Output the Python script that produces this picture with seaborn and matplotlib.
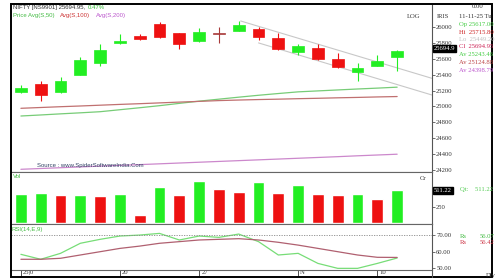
import matplotlib
matplotlib.use('Agg')
import matplotlib.pyplot as plt
import matplotlib.transforms as mtransforms
from matplotlib.patches import Rectangle
from matplotlib.lines import Line2D
import seaborn as sns
import numpy as np
import pandas as pd

sns.set_style('white')
plt.rcParams['font.family'] = ['Liberation Serif', 'DejaVu Serif']

# ---------------- data ----------------
opens = [25186, 25279, 25186, 25396, 25543, 25803, 25887, 26038, 25921, 25824,
         25922, 25954, 25971, 25858, 25682, 25732, 25594, 25438, 25509, 25617]
highs = [25270, 25320, 25375, 25626, 25783, 25912, 25912, 26067, 25925, 25984,
         25997, 26072, 26004, 25929, 25786, 25783, 25677, 25543, 25648, 25716]
lows = [25173, 25072, 25175, 25390, 25513, 25786, 25840, 25858, 25720, 25815,
        25803, 25948, 25837, 25711, 25648, 25585, 25488, 25324, 25505, 25449]
closes = [25236, 25144, 25324, 25585, 25711, 25828, 25853, 25878, 25786, 25941,
          25918, 26026, 25871, 25720, 25761, 25598, 25501, 25488, 25576, 25695]

ma50 = [24880, 24893, 24907, 24920, 24934, 24959, 24984, 25010, 25039, 25067,
        25092, 25117, 25141, 25163, 25184, 25196, 25208, 25220, 25231, 25243]
ma100 = [24977, 24987, 24997, 25006, 25016, 25026, 25035, 25045, 25055, 25064,
         25074, 25081, 25087, 25092, 25098, 25103, 25109, 25114, 25120, 25125]
ma200 = [24209, 24219, 24229, 24239, 24249, 24259, 24268, 24278, 24288, 24298,
         24308, 24318, 24328, 24338, 24348, 24358, 24368, 24379, 24389, 24399]

trend_x = [11.1, 20.76]
trend_upper = [26076, 25354]
trend_lower_x = [12.0, 20.76]
trend_lower = [25800, 25144]

volumes = [453, 469, 437, 437, 422, 453, 125, 562, 437, 656,
           531, 484, 640, 469, 594, 453, 437, 453, 375, 511.22]
vol_dir = ['up', 'up', 'down', 'up', 'down', 'up', 'down', 'up', 'down', 'up',
           'down', 'down', 'up', 'down', 'up', 'down', 'down', 'up', 'down', 'up']

rsi = [58.3, 55.3, 58.9, 65.0, 67.4, 69.4, 70.0, 71.0, 67.0, 69.4,
       68.6, 70.6, 66.0, 57.9, 58.9, 52.8, 49.8, 49.8, 52.8, 56.07]
rsi_sig = [55.3, 55.3, 55.9, 57.9, 59.9, 61.9, 63.3, 65.0, 66.0, 67.0,
           67.4, 67.8, 67.0, 65.6, 63.9, 61.9, 59.9, 57.9, 56.5, 56.42]

xtick_idx = [0, 5, 9, 14, 18]
xtick_labels = ['25|0', '20', '27', 'N', '10']
price_ticks = [24200, 24400, 24600, 24800, 25000, 25200, 25400, 25600, 25800, 26000]
vol_ticks = [250]
rsi_ticks = [50, 60, 70]

GREEN = '#22ee22'
RED = '#ee1111'
DOJI = '#a83a3a'

# ---------------- layout ----------------
W, H = 500, 280
fig = plt.figure(figsize=(5, 2.8), dpi=100)
fig.patch.set_facecolor('white')
L, R = 11 / W, 432 / W
def fy(px):
    return 1 - px / H

ax_p = fig.add_axes([L, fy(172), R - L, (172 - 4) / H])
ax_v = fig.add_axes([L, fy(224), R - L, (224 - 172) / H], sharex=ax_p)
ax_r = fig.add_axes([L, fy(270), R - L, (270 - 224) / H], sharex=ax_p)

idx = np.arange(len(opens))
o = np.array(opens); c = np.array(closes)
cols = []
for oo, cc in zip(o, c):
    if abs(cc - oo) < 10:
        cols.append(DOJI)
    elif cc > oo:
        cols.append(GREEN)
    else:
        cols.append(RED)

# price panel
ax_p.vlines(idx, lows, highs, colors=cols, lw=0.8, zorder=2)
ax_p.bar(idx, np.maximum(np.abs(c - o), 3), bottom=np.minimum(o, c), width=0.6,
         color=cols, edgecolor=cols, linewidth=0.5, zorder=3)
sns.lineplot(x=idx, y=ma50, ax=ax_p, color='#77cc77', lw=0.9, zorder=1)
sns.lineplot(x=idx, y=ma100, ax=ax_p, color='#c07070', lw=0.9, zorder=1)
sns.lineplot(x=idx, y=ma200, ax=ax_p, color='#cc88cc', lw=0.9, zorder=1)
ax_p.plot(trend_x, trend_upper, color='#c8c8c8', lw=0.8, zorder=1)
ax_p.plot(trend_lower_x, trend_lower, color='#c8c8c8', lw=0.8, zorder=1)
ax_p.set_ylim(24175, 26290)
ax_p.set_xlim(-0.5, 20.76)

# volume panel
vdf = pd.DataFrame({'i': idx, 'vol': volumes, 'dir': vol_dir})
sns.barplot(data=vdf, x='i', y='vol', hue='dir', palette={'up': GREEN, 'down': RED},
            native_scale=True, width=0.6, dodge=False, legend=False, saturation=1,
            ax=ax_v)
ax_v.set_ylim(-16, 797)

# rsi panel
sns.lineplot(x=idx, y=rsi, ax=ax_r, color='#77dd77', lw=0.9)
sns.lineplot(x=idx, y=rsi_sig, ax=ax_r, color='#b06070', lw=0.9)
ax_r.axhline(70, color='#888888', lw=0.6, ls=(0, (1.5, 1.5)))
ax_r.set_ylim(48.8, 76.7)
ax_r.set_xlim(-0.5, 20.76)

TXT = '#333333'
FS = 4.8
for ax in (ax_p, ax_v, ax_r):
    ax.set_xlabel(''); ax.set_ylabel('')
    ax.yaxis.tick_right()
    ax.tick_params(axis='y', which='both', right=True, left=False, length=2, width=0.5,
                   labelsize=FS, pad=1, colors=TXT)
    ax.spines['left'].set_visible(False)
    ax.spines['right'].set_color('#555555'); ax.spines['right'].set_linewidth(0.8)
    ax.spines['top'].set_color('#666666'); ax.spines['top'].set_linewidth(0.8)
    ax.spines['bottom'].set_color('#666666'); ax.spines['bottom'].set_linewidth(0.8)
    ax.grid(False)
for ax in (ax_p, ax_v):
    ax.tick_params(axis='x', bottom=False, labelbottom=False)
ax_p.spines['top'].set_visible(False)

ax_p.set_yticks(price_ticks)
ax_p.set_yticklabels([str(t) for t in price_ticks])
ax_v.set_yticks(vol_ticks)
ax_v.set_yticklabels([str(t) for t in vol_ticks])
ax_r.set_yticks(rsi_ticks)
ax_r.set_yticklabels(['%.2f' % t for t in rsi_ticks])

ax_r.set_xticks(xtick_idx)
ax_r.set_xticklabels(xtick_labels)
ax_r.tick_params(axis='x', bottom=True, direction='out', length=4.5, width=0.6,
                 labelsize=FS, pad=-4.4, colors=TXT)
off = mtransforms.ScaledTranslation(1.5 / 72, 0, fig.dpi_scale_trans)
for lbl in ax_r.get_xticklabels():
    lbl.set_horizontalalignment('left')
    lbl.set_transform(lbl.get_transform() + off)

# value boxes on right axis
bt = mtransforms.blended_transform_factory(ax_p.transAxes, ax_p.transData)
ax_p.text(1.004, closes[-1] + 30, '25694.9', transform=bt, color='white', fontsize=FS,
          va='center', ha='left', zorder=10, clip_on=False,
          bbox=dict(boxstyle='square,pad=0.15', fc='black', ec='black'))
bv = mtransforms.blended_transform_factory(ax_v.transAxes, ax_v.transData)
ax_v.text(1.004, volumes[-1], '511.22', transform=bv, color='white', fontsize=FS,
          va='center', ha='left', zorder=10, clip_on=False,
          bbox=dict(boxstyle='square,pad=0.15', fc='black', ec='black'))

# frame
fig.add_artist(Rectangle((11 / W, fy(277)), (492 - 11) / W, (277 - 4) / H,
                         transform=fig.transFigure, fill=False, ec='black', lw=1.4))
fig.add_artist(Line2D([R, R], [fy(277), fy(270)], transform=fig.transFigure,
                      color='#555555', lw=0.8))

def ftext(x, y, s, color=TXT, size=FS, ha='left', family=None, **kw):
    kwargs = dict(color=color, fontsize=size, ha=ha, va='center')
    if family:
        kwargs['family'] = family
    kwargs.update(kw)
    fig.text(x / W, fy(y), s, **kwargs)

SANS = ['Liberation Sans', 'DejaVu Sans']
# header
ftext(13, 7.5, 'NIFTY [NS9901] 25694.95,', size=4.3, family=SANS)
ftext(88, 7.5, '0.47%', color='#33bb33', size=4.3, family=SANS)
ftext(13, 15.5, 'Price Avg(S,50)', color='#44bb44', size=4.3, family=SANS)
ftext(60, 15.5, 'Avg(S,100)', color='#cc3333', size=4.3, family=SANS)
ftext(96, 15.5, 'Avg(S,200)', color='#bb55cc', size=4.3, family=SANS)
ftext(37, 165, 'Source : www.SpiderSoftwareIndia.Com', color='#334466', size=4.3, family=SANS)
ftext(420, 16, 'LOG', ha='right')
ftext(437, 16, 'IRIS')

# right info column
ftext(478, 7, '0.00', ha='center')
ftext(459, 16, '11-11-25 Tu')
ftext(459, 24.5, 'Op 25617.00', color='#44cc44')
ftext(459, 32, 'Hi  25715.80', color='#cc2222')
ftext(459, 39.5, 'Lo  25449.20', color='#c0c0c0')
ftext(459, 47, 'Cl  25694.95', color='#cc2255')
ftext(459, 54.5, 'Av 25243.46', color='#44cc44')
ftext(459, 62, 'Av 25124.88', color='#bb4444')
ftext(459, 70, 'Av 24398.79', color='#bb55cc')

# panel labels
ftext(13, 176, 'Vol', color='#44bb44', size=4.3, family=SANS)
ftext(420, 178, 'Cr')
ftext(460, 189, 'Qt:    511.22', color='#55cc55')
ftext(12, 229, 'RSI(14,E,9)', color='#44bb44', size=4.3, family=SANS)
ftext(460, 237, 'Rs', color='#44bb44')
ftext(480, 237, '56.07', color='#44bb44')
ftext(460, 243, 'Rs', color='#cc3344')
ftext(480, 243, '56.42', color='#cc3344')
ftext(486, 275, 'Dly')

fig.savefig('out.png', dpi=100)
